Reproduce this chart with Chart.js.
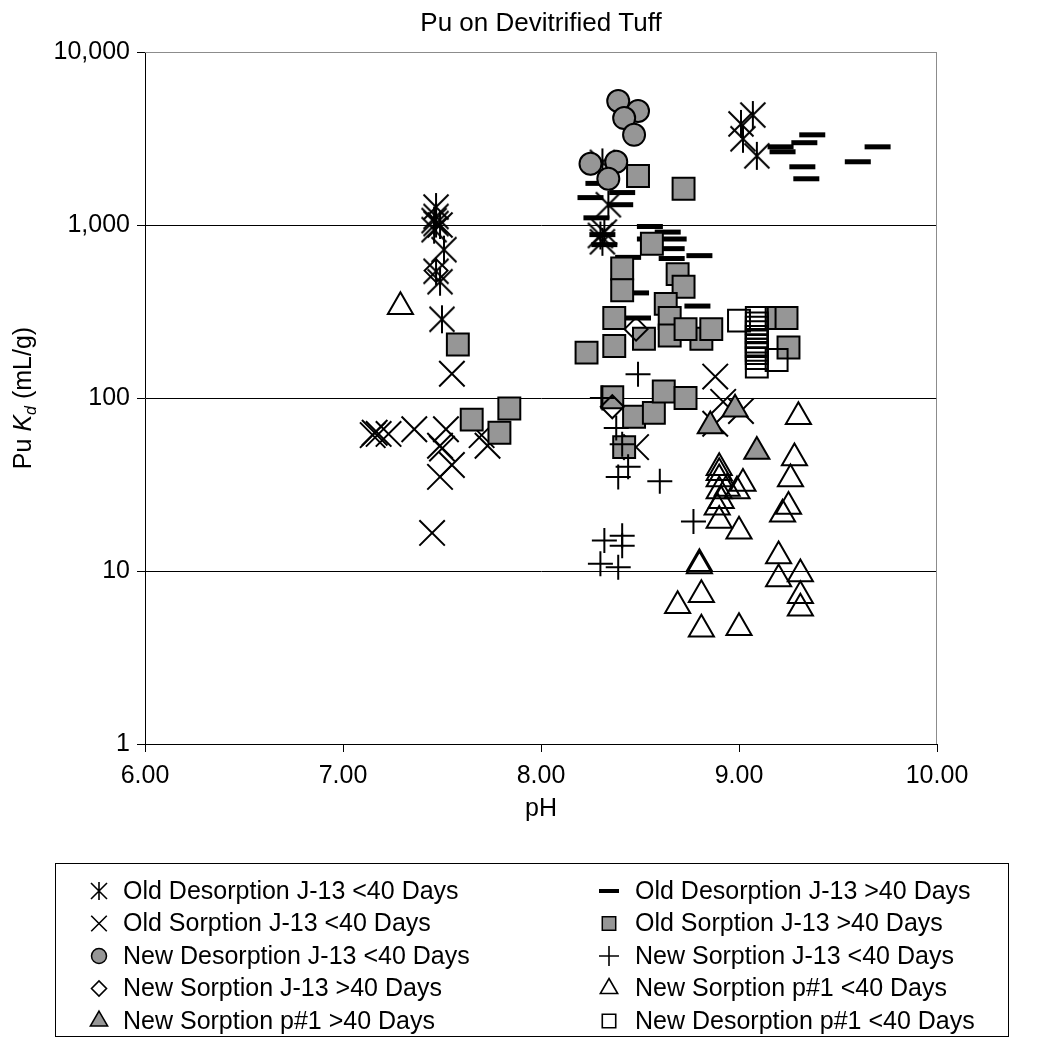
<!DOCTYPE html>
<html>
<head>
<meta charset="utf-8">
<title>Pu on Devitrified Tuff</title>
<script src="https://cdn.jsdelivr.net/npm/chart.js@4.4.1/dist/chart.umd.min.js"></script>
<style>
  html, body { margin: 0; background: #fff; }
  #wrap { width: 1037px; height: 1055px; position: relative; }
</style>
</head>
<body>
<div id="wrap"><canvas id="chart"></canvas></div>
<script>
// axis ticks
const xTicks = [6, 7, 8, 9, 10];
const yTicks = [1, 10, 100, 1000, 10000];

// data: [pH, Kd]
const oldDesorptionJ13Lt40 = [[7.47,1270],[7.47,1120],[7.46,1060],[7.47,1020],[7.46,940],[7.49,1000],[7.51,720],[7.47,540],[7.49,470],[7.50,285],
  [8.31,2300],[8.34,1310],[8.31,800],[8.32,910],[8.30,870],[9.01,3840],[9.07,4320],[9.02,3150],[9.09,2510]];
const oldDesorptionJ13Gt40 = [[9.37,3320],[9.33,2990],[9.21,2830],[9.22,2650],[9.32,2170],[9.34,1850],[9.70,2830],[9.60,2320],
  [8.25,1440],[8.41,1540],[8.40,1310],[8.29,1740],[8.28,1100],[8.55,980],[8.64,910],[8.31,880],[8.32,770],[8.67,830],
  [8.66,730],[8.66,640],[8.80,665],[8.48,405],[8.79,340],[8.49,290],[8.55,830],[8.44,650]];
const oldSorptionJ13Lt40 = [[7.15,61],[7.16,63],[7.18,62],[7.23,62],[7.36,66],[7.52,66],[7.49,53],[7.50,51],[7.55,41],[7.49,35],
  [7.73,53],[7.70,61],[7.45,16.6],[7.55,138],[8.88,133],[8.92,95],[9.01,84],[8.88,71],[8.48,52]];
const oldSorptionJ13Gt40 = [[7.58,204],[7.65,75],[7.84,87],[7.79,63],[8.23,183],[8.49,1920],[8.72,1620],[8.56,780],[8.41,560],
  [8.41,420],[8.69,520],[8.72,440],[8.63,350],[8.37,290],[8.37,200],[8.52,220],[8.65,290],[8.65,230],[8.81,220],[8.86,250],
  [8.73,250],[8.36,101],[8.47,78],[8.57,82],[8.62,109],[8.73,100],[8.42,52],[9.19,290],[9.24,290],[9.25,196]];
const newDesorptionJ13Lt40 = [[8.39,5210],[8.49,4560],[8.42,4150],[8.47,3320],[8.25,2260],[8.38,2320],[8.34,1850]];
const newSorptionJ13Lt40 = [[8.49,137],[8.31,100],[8.38,67],[8.41,54],[8.44,40],[8.39,35],[8.60,33],[8.32,15],[8.41,16],
  [8.41,14],[8.30,11],[8.39,10.5],[8.77,19.3]];
const newSorptionJ13Gt40 = [[8.36,89],[8.48,250],[7.47,545]];
const newSorptionP1Lt40 = [[7.29,337],[9.30,78],[9.28,45],[9.26,34],[9.25,23.6],[9.22,21.3],[9.20,12.2],[9.20,9.0],[9.31,9.6],
  [9.31,7.2],[9.31,6.1],[9.02,32],[8.99,29],[8.90,39.5],[8.90,37],[8.90,34],[8.90,29],[8.91,25.5],[8.89,23.4],[8.90,19.6],
  [9.00,17],[8.80,11],[8.80,10.7],[8.81,7.3],[8.69,6.3],[8.81,4.6],[9.00,4.7],[8.94,30]];
const newSorptionP1Gt40 = [[8.98,86],[8.855,69],[9.09,49]];
const newDesorptionP1Lt40 = [[9.00,280],[9.09,290],[9.09,270],[9.09,255],[9.09,240],[9.09,225],[9.09,212],[9.09,200],
  [9.09,190],[9.09,182],[9.09,170],[9.09,152],[9.19,166]];

const GRAY = '#969696';
const FONT = '"Liberation Sans", Arial, sans-serif';

// asterisk marker (X with a vertical bar)
function asterisk(w, h, s, lw) {
  const c = document.createElement('canvas');
  c.width = w; c.height = h;
  const g = c.getContext('2d');
  const cx = w / 2, cy = h / 2;
  g.strokeStyle = '#000';
  g.lineWidth = lw;
  g.beginPath();
  g.moveTo(cx - s, cy - s); g.lineTo(cx + s, cy + s);
  g.moveTo(cx + s, cy - s); g.lineTo(cx - s, cy + s);
  g.moveTo(cx, 1); g.lineTo(cx, h - 1);
  g.stroke();
  return c;
}

// series in the Excel order (later ones sit on top)
const series = [
  { label: 'Old Desorption J-13 <40 Days', data: oldDesorptionJ13Lt40, style: asterisk(28, 30, 12.5, 2), legStyle: asterisk(20, 20, 8, 1.6), r: 13, lr: 9, bw: 2, fill: 'transparent' },
  { label: 'Old Desorption J-13 >40 Days', data: oldDesorptionJ13Gt40, style: 'line', r: 13, lr: 10, bw: 5, lbw: 4, fill: 'transparent' },
  { label: 'Old Sorption J-13 <40 Days', data: oldSorptionJ13Lt40, style: 'crossRot', r: 18, lr: 11, bw: 2, lbw: 1.6, fill: 'transparent' },
  { label: 'Old Sorption J-13 >40 Days', data: oldSorptionJ13Gt40, style: 'rect', r: 15.5, lr: 9.5, bw: 2, lbw: 1.5, fill: GRAY },
  { label: 'New Desorption J-13 <40 Days', data: newDesorptionJ13Lt40, style: 'circle', r: 11, lr: 7.5, bw: 2, lbw: 1.5, fill: GRAY },
  { label: 'New Sorption J-13 <40 Days', data: newSorptionJ13Lt40, style: 'cross', r: 12.5, lr: 10, bw: 2, lbw: 1.6, fill: 'transparent' },
  { label: 'New Sorption J-13 >40 Days', data: newSorptionJ13Gt40, style: 'rectRot', r: 11.5, lr: 7.5, bw: 2, lbw: 1.6, fill: 'transparent' },
  { label: 'New Sorption p#1 <40 Days', data: newSorptionP1Lt40, style: 'triangle', r: 14.5, lr: 10, bw: 2, lbw: 1.6, fill: 'transparent' },
  { label: 'New Sorption p#1 >40 Days', data: newSorptionP1Gt40, style: 'triangle', r: 14.5, lr: 10, bw: 2, lbw: 1.5, fill: GRAY },
  { label: 'New Desorption p#1 <40 Days', data: newDesorptionP1Lt40, style: 'rect', r: 15.5, lr: 9.5, bw: 2, lbw: 1.6, fill: 'transparent' }
];

// legend layout: left column then right column
const legendLeft = ['Old Desorption J-13 <40 Days', 'Old Sorption J-13 <40 Days', 'New Desorption J-13 <40 Days',
  'New Sorption J-13 >40 Days', 'New Sorption p#1 >40 Days'];
const legendRight = ['Old Desorption J-13 >40 Days', 'Old Sorption J-13 >40 Days', 'New Sorption J-13 <40 Days',
  'New Sorption p#1 <40 Days', 'New Desorption p#1 <40 Days'];

const decor = {
  id: 'decor',
  beforeDatasetsDraw(chart) {
    const { ctx, chartArea: a } = chart;
    ctx.save();
    ctx.strokeStyle = '#8c8c8c';
    ctx.lineWidth = 1;
    ctx.beginPath();
    ctx.moveTo(a.left, a.top + 0.5);
    ctx.lineTo(a.right - 0.5, a.top + 0.5);
    ctx.lineTo(a.right - 0.5, a.bottom);
    ctx.stroke();
    ctx.restore();
  },
  afterDraw(chart) {
    const { ctx, chartArea: a } = chart;
    const cx = (a.left + a.right) / 2;
    ctx.save();
    ctx.fillStyle = '#000';

    // title
    ctx.font = '26px ' + FONT;
    ctx.textAlign = 'center';
    ctx.textBaseline = 'alphabetic';
    ctx.fillText('Pu on Devitrified Tuff', cx, 31);

    // x axis title
    ctx.font = '25px ' + FONT;
    ctx.fillText('pH', cx, 816);

    // y axis title with italic K and subscript d
    const parts = [
      { t: 'Pu ', f: '25px ' + FONT, dy: 0 },
      { t: 'K', f: 'italic 25px ' + FONT, dy: 0 },
      { t: 'd', f: 'italic 16px ' + FONT, dy: 5 },
      { t: ' (mL/g)', f: '25px ' + FONT, dy: 0 }
    ];
    let total = 0;
    parts.forEach(p => { ctx.font = p.f; p.w = ctx.measureText(p.t).width; total += p.w; });
    ctx.save();
    ctx.translate(31, (a.top + a.bottom) / 2);
    ctx.rotate(-Math.PI / 2);
    ctx.textAlign = 'left';
    let px = -total / 2;
    parts.forEach(p => { ctx.font = p.f; ctx.fillText(p.t, px, p.dy); px += p.w; });
    ctx.restore();

    // legend box
    ctx.strokeStyle = '#000';
    ctx.lineWidth = 1;
    ctx.strokeRect(55.5, 863.5, 953, 173);
    ctx.font = '25px ' + FONT;
    ctx.textAlign = 'left';
    ctx.textBaseline = 'middle';
    const rowY = i => 891 + i * 32.5;
    const drawItem = (label, mx, tx, y) => {
      const s = series.find(d => d.label === label);
      ctx.save();
      ctx.fillStyle = s.fill;
      ctx.strokeStyle = '#000';
      ctx.lineWidth = s.lbw || s.bw;
      Chart.helpers.drawPoint(ctx, { pointStyle: s.legStyle || s.style, radius: s.lr, borderWidth: s.lbw || s.bw, rotation: 0 }, mx, y);
      ctx.restore();
      ctx.fillStyle = '#000';
      ctx.fillText(label, tx, y + 1);
    };
    legendLeft.forEach((l, i) => drawItem(l, 99, 123, rowY(i)));
    legendRight.forEach((l, i) => drawItem(l, 609, 635, rowY(i)));
    ctx.restore();
  }
};

const datasets = series.map((s, i) => ({
  label: s.label,
  data: s.data.map(([x, y]) => ({ x, y })),
  pointStyle: s.style,
  pointRadius: s.r,
  pointHoverRadius: s.r,
  pointBorderWidth: s.bw,
  pointBackgroundColor: s.fill,
  pointBorderColor: '#000',
  showLine: false,
  order: series.length - i
}));

new Chart(document.getElementById('chart'), {
  type: 'scatter',
  data: { datasets },
  options: {
    responsive: true,
    maintainAspectRatio: false,
    animation: false,
    layout: { padding: { top: 52, right: 100, bottom: 211, left: 0 } },
    plugins: {
      legend: { display: false },
      title: { display: false },
      tooltip: { enabled: false }
    },
    scales: {
      x: {
        type: 'linear',
        min: 6, max: 10,
        afterBuildTicks: s => { s.ticks = xTicks.map(v => ({ value: v })); },
        afterFit: s => { s.height = 100; },
        ticks: { callback: v => Number(v).toFixed(2), color: '#000', font: { size: 25, family: FONT }, padding: 9, maxRotation: 0 },
        grid: { drawOnChartArea: false, drawTicks: true, tickLength: 8, color: '#000', tickColor: '#000' },
        border: { color: '#000', width: 1 }
      },
      y: {
        type: 'logarithmic',
        min: 1, max: 10000,
        afterBuildTicks: s => { s.ticks = yTicks.map(v => ({ value: v })); },
        afterFit: s => { s.width = 145; },
        ticks: { callback: v => Number(v).toLocaleString('en-US'), color: '#000', font: { size: 25, family: FONT }, padding: 7 },
        grid: { color: c => (c.tick && c.tick.value === 10000 ? '#8c8c8c' : '#000'), tickColor: '#000', tickLength: 8, lineWidth: 1 },
        border: { color: '#000', width: 1 }
      }
    }
  },
  plugins: [decor]
});
</script>
</body>
</html>
